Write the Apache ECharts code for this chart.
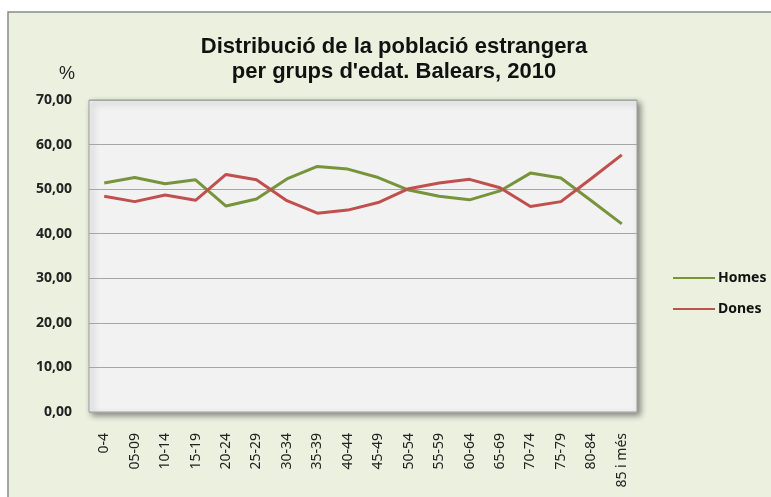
<!DOCTYPE html>
<html>
<head>
<meta charset="utf-8">
<script src="https://cdn.jsdelivr.net/npm/echarts@6/dist/echarts.min.js"></script>
<style>
  html, body { margin: 0; padding: 0; background: #ffffff; }
  #chart { width: 771px; height: 497px; }
</style>
</head>
<body>
<div id="chart"></div>
<script>
// grups d'edat
const categories = ['0-4', '05-09', '10-14', '15-19', '20-24', '25-29', '30-34', '35-39', '40-44',
  '45-49', '50-54', '55-59', '60-64', '65-69', '70-74', '75-79', '80-84', '85 i més'];
// % homes i dones (llegit del gràfic)
const homes = [51.4, 52.6, 51.2, 52.1, 46.2, 47.8, 52.3, 55.1, 54.5, 52.6, 49.8, 48.4, 47.6, 49.6, 53.6, 52.5, 47.4, 42.2];
const dones = [48.4, 47.2, 48.7, 47.5, 53.3, 52.1, 47.4, 44.6, 45.3, 47.0, 50.1, 51.4, 52.2, 50.3, 46.1, 47.2, 52.4, 57.7];
const yTicks = [0, 10, 20, 30, 40, 50, 60, 70];

const chart = echarts.init(document.getElementById('chart'));
const option = {
  backgroundColor: '#ffffff',
  animation: false,
  graphic: [
    // marc exterior del gràfic
    {
      type: 'rect', z: -10,
      shape: { x: 8, y: 12, width: 820, height: 560 },
      style: { fill: '#ebf1de', stroke: '#8a8a8a', lineWidth: 1.5 }
    },
    {
      type: 'text', left: 59, top: 65,
      style: { text: '%', font: '18px "Liberation Sans", Arial, sans-serif', fill: '#222' }
    }
  ],
  title: {
    text: "Distribució de la població estrangera\nper grups d'edat. Balears, 2010",
    left: 394, top: 34, textAlign: 'center', padding: 0,
    textStyle: { fontFamily: '"Liberation Sans", Arial, sans-serif', fontSize: 22, fontWeight: 'bold', color: '#111', lineHeight: 25 }
  },
  legend: {
    orient: 'vertical', left: 668, top: 266,
    itemWidth: 42, itemHeight: 2, itemGap: 17,
    icon: 'rect',
    textStyle: { fontFamily: '"Noto Sans", sans-serif', fontSize: 14, fontWeight: 'bold', color: '#111', padding: [0, 0, 0, -2] },
    data: ['Homes', 'Dones']
  },
  grid: {
    left: 89, top: 100, width: 548, height: 312,
    show: true, backgroundColor: '#f2f2f2', borderColor: '#a0a0a0', borderWidth: 1,
    shadowColor: 'rgba(0,0,0,0.45)', shadowBlur: 6, shadowOffsetX: 3, shadowOffsetY: 3
  },
  xAxis: {
    type: 'category', data: categories, boundaryGap: true,
    axisLine: { show: false }, axisTick: { show: false },
    axisLabel: {
      rotate: 90, interval: 0, margin: 21,
      fontFamily: '"Noto Sans", sans-serif', fontSize: 14, color: '#222'
    }
  },
  yAxis: {
    type: 'value', min: 0, max: 70, interval: 10,
    axisLine: { show: false }, axisTick: { show: false },
    splitLine: { lineStyle: { color: '#a6a6a6', width: 1 } },
    axisLabel: {
      margin: 17,
      fontFamily: '"Noto Sans", sans-serif', fontSize: 14, fontWeight: 'bold', color: '#222',
      formatter: v => yTicks.includes(v) ? v.toFixed(2).replace('.', ',') : ''
    }
  },
  series: [
    {
      name: 'Homes', type: 'line', data: homes,
      symbol: 'none', color: '#77933c',
      lineStyle: { width: 3, color: '#77933c' }
    },
    {
      name: 'Dones', type: 'line', data: dones,
      symbol: 'none', color: '#c0504d',
      lineStyle: { width: 3, color: '#c0504d' }
    }
  ]
};
chart.setOption(option);
</script>
</body>
</html>
